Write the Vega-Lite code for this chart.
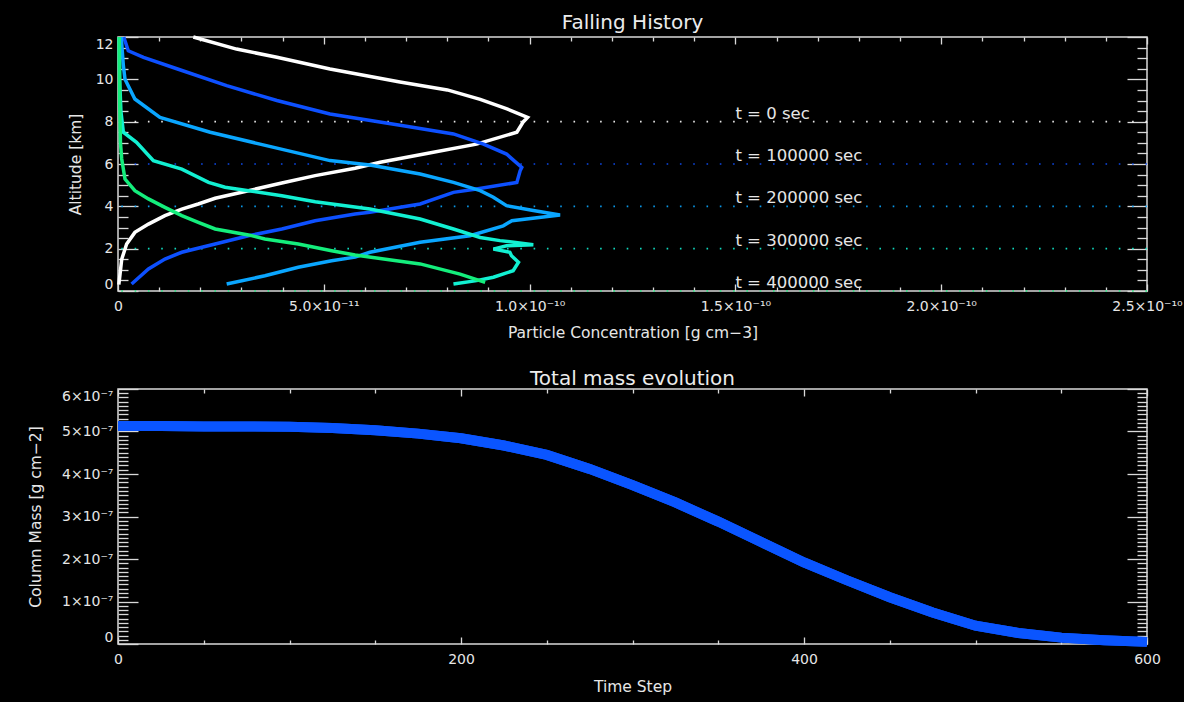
{
  "$schema": "https://vega.github.io/schema/vega-lite/v6.json",
  "background": "#000000",
  "padding": {"left": 27, "top": 12, "right": 10, "bottom": 6},
  "spacing": 26,
  "config": {
    "view": {"stroke": "#d9d9d9", "strokeWidth": 1.5},
    "title": {"color": "#ececec", "fontSize": 20, "fontWeight": "normal", "font": "DejaVu Sans", "offset": -3},
    "axis": {
      "domain": false, "grid": false,
      "labelColor": "#e6e6e6", "labelFont": "DejaVu Sans", "labelFontSize": 14,
      "titleColor": "#e6e6e6", "titleFont": "DejaVu Sans", "titleFontSize": 15.5, "titleFontWeight": "normal",
      "tickColor": "#d9d9d9", "tickWidth": 1.3, "labelOverlap": false
    }
  },
  "datasets": {
    "profiles": [
      {"t": 0, "i": 0, "conc": 0.002e-10, "alt": 0.3},
      {"t": 0, "i": 1, "conc": 0.005e-10, "alt": 0.8},
      {"t": 0, "i": 2, "conc": 0.009e-10, "alt": 1.5},
      {"t": 0, "i": 3, "conc": 0.021e-10, "alt": 2.22},
      {"t": 0, "i": 4, "conc": 0.041e-10, "alt": 2.77},
      {"t": 0, "i": 5, "conc": 0.074e-10, "alt": 3.16},
      {"t": 0, "i": 6, "conc": 0.114e-10, "alt": 3.56},
      {"t": 0, "i": 7, "conc": 0.155e-10, "alt": 3.87},
      {"t": 0, "i": 8, "conc": 0.195e-10, "alt": 4.11},
      {"t": 0, "i": 9, "conc": 0.236e-10, "alt": 4.38},
      {"t": 0, "i": 10, "conc": 0.317e-10, "alt": 4.74},
      {"t": 0, "i": 11, "conc": 0.398e-10, "alt": 5.1},
      {"t": 0, "i": 12, "conc": 0.479e-10, "alt": 5.45},
      {"t": 0, "i": 13, "conc": 0.576e-10, "alt": 5.8},
      {"t": 0, "i": 14, "conc": 0.637e-10, "alt": 6.08},
      {"t": 0, "i": 15, "conc": 0.75e-10, "alt": 6.5},
      {"t": 0, "i": 16, "conc": 0.871e-10, "alt": 6.94},
      {"t": 0, "i": 17, "conc": 0.969e-10, "alt": 7.5},
      {"t": 0, "i": 18, "conc": 0.985e-10, "alt": 8.0},
      {"t": 0, "i": 19, "conc": 0.995e-10, "alt": 8.2},
      {"t": 0, "i": 20, "conc": 0.945e-10, "alt": 8.6},
      {"t": 0, "i": 21, "conc": 0.88e-10, "alt": 9.05},
      {"t": 0, "i": 22, "conc": 0.8e-10, "alt": 9.5},
      {"t": 0, "i": 23, "conc": 0.685e-10, "alt": 9.87},
      {"t": 0, "i": 24, "conc": 0.515e-10, "alt": 10.49},
      {"t": 0, "i": 25, "conc": 0.386e-10, "alt": 11.04},
      {"t": 0, "i": 26, "conc": 0.288e-10, "alt": 11.43},
      {"t": 0, "i": 27, "conc": 0.183e-10, "alt": 12.0},

      {"t": 100000, "i": 0, "conc": 0.033e-10, "alt": 0.33},
      {"t": 100000, "i": 1, "conc": 0.074e-10, "alt": 1.04},
      {"t": 100000, "i": 2, "conc": 0.114e-10, "alt": 1.51},
      {"t": 100000, "i": 3, "conc": 0.155e-10, "alt": 1.83},
      {"t": 100000, "i": 4, "conc": 0.236e-10, "alt": 2.22},
      {"t": 100000, "i": 5, "conc": 0.317e-10, "alt": 2.61},
      {"t": 100000, "i": 6, "conc": 0.398e-10, "alt": 2.93},
      {"t": 100000, "i": 7, "conc": 0.479e-10, "alt": 3.32},
      {"t": 100000, "i": 8, "conc": 0.576e-10, "alt": 3.64},
      {"t": 100000, "i": 9, "conc": 0.612e-10, "alt": 3.72},
      {"t": 100000, "i": 10, "conc": 0.734e-10, "alt": 4.11},
      {"t": 100000, "i": 11, "conc": 0.815e-10, "alt": 4.66},
      {"t": 100000, "i": 12, "conc": 0.871e-10, "alt": 4.82},
      {"t": 100000, "i": 13, "conc": 0.969e-10, "alt": 5.13},
      {"t": 100000, "i": 14, "conc": 0.977e-10, "alt": 5.68},
      {"t": 100000, "i": 15, "conc": 0.981e-10, "alt": 5.84},
      {"t": 100000, "i": 16, "conc": 0.944e-10, "alt": 6.47},
      {"t": 100000, "i": 17, "conc": 0.888e-10, "alt": 6.94},
      {"t": 100000, "i": 18, "conc": 0.815e-10, "alt": 7.42},
      {"t": 100000, "i": 19, "conc": 0.693e-10, "alt": 7.81},
      {"t": 100000, "i": 20, "conc": 0.515e-10, "alt": 8.36},
      {"t": 100000, "i": 21, "conc": 0.386e-10, "alt": 9.0},
      {"t": 100000, "i": 22, "conc": 0.264e-10, "alt": 9.7},
      {"t": 100000, "i": 23, "conc": 0.143e-10, "alt": 10.5},
      {"t": 100000, "i": 24, "conc": 0.062e-10, "alt": 11.04},
      {"t": 100000, "i": 25, "conc": 0.025e-10, "alt": 11.35},
      {"t": 100000, "i": 26, "conc": 0.017e-10, "alt": 11.82},
      {"t": 100000, "i": 27, "conc": 0.014e-10, "alt": 12.0},

      {"t": 200000, "i": 0, "conc": 0.264e-10, "alt": 0.33},
      {"t": 200000, "i": 1, "conc": 0.357e-10, "alt": 0.72},
      {"t": 200000, "i": 2, "conc": 0.438e-10, "alt": 1.12},
      {"t": 200000, "i": 3, "conc": 0.519e-10, "alt": 1.43},
      {"t": 200000, "i": 4, "conc": 0.576e-10, "alt": 1.6},
      {"t": 200000, "i": 5, "conc": 0.612e-10, "alt": 1.83},
      {"t": 200000, "i": 6, "conc": 0.734e-10, "alt": 2.3},
      {"t": 200000, "i": 7, "conc": 0.855e-10, "alt": 2.61},
      {"t": 200000, "i": 8, "conc": 0.936e-10, "alt": 3.08},
      {"t": 200000, "i": 9, "conc": 0.957e-10, "alt": 3.32},
      {"t": 200000, "i": 10, "conc": 1.074e-10, "alt": 3.59},
      {"t": 200000, "i": 11, "conc": 1.009e-10, "alt": 3.8},
      {"t": 200000, "i": 12, "conc": 0.944e-10, "alt": 4.03},
      {"t": 200000, "i": 13, "conc": 0.912e-10, "alt": 4.43},
      {"t": 200000, "i": 14, "conc": 0.88e-10, "alt": 4.74},
      {"t": 200000, "i": 15, "conc": 0.815e-10, "alt": 5.13},
      {"t": 200000, "i": 16, "conc": 0.734e-10, "alt": 5.53},
      {"t": 200000, "i": 17, "conc": 0.612e-10, "alt": 5.95},
      {"t": 200000, "i": 18, "conc": 0.515e-10, "alt": 6.16},
      {"t": 200000, "i": 19, "conc": 0.345e-10, "alt": 6.94},
      {"t": 200000, "i": 20, "conc": 0.224e-10, "alt": 7.5},
      {"t": 200000, "i": 21, "conc": 0.102e-10, "alt": 8.2},
      {"t": 200000, "i": 22, "conc": 0.041e-10, "alt": 9.07},
      {"t": 200000, "i": 23, "conc": 0.017e-10, "alt": 10.0},
      {"t": 200000, "i": 24, "conc": 0.013e-10, "alt": 10.64},
      {"t": 200000, "i": 25, "conc": 0.01e-10, "alt": 11.43},
      {"t": 200000, "i": 26, "conc": 0.008e-10, "alt": 12.0},

      {"t": 300000, "i": 0, "conc": 0.815e-10, "alt": 0.33},
      {"t": 300000, "i": 1, "conc": 0.871e-10, "alt": 0.49},
      {"t": 300000, "i": 2, "conc": 0.912e-10, "alt": 0.65},
      {"t": 300000, "i": 3, "conc": 0.96e-10, "alt": 0.96},
      {"t": 300000, "i": 4, "conc": 0.973e-10, "alt": 1.36},
      {"t": 300000, "i": 5, "conc": 0.956e-10, "alt": 1.67},
      {"t": 300000, "i": 6, "conc": 0.952e-10, "alt": 1.83},
      {"t": 300000, "i": 7, "conc": 0.912e-10, "alt": 1.98},
      {"t": 300000, "i": 8, "conc": 0.944e-10, "alt": 2.14},
      {"t": 300000, "i": 9, "conc": 1.009e-10, "alt": 2.19},
      {"t": 300000, "i": 10, "conc": 0.928e-10, "alt": 2.38},
      {"t": 300000, "i": 11, "conc": 0.88e-10, "alt": 2.53},
      {"t": 300000, "i": 12, "conc": 0.815e-10, "alt": 2.93},
      {"t": 300000, "i": 13, "conc": 0.734e-10, "alt": 3.4},
      {"t": 300000, "i": 14, "conc": 0.612e-10, "alt": 3.87},
      {"t": 300000, "i": 15, "conc": 0.479e-10, "alt": 4.22},
      {"t": 300000, "i": 16, "conc": 0.398e-10, "alt": 4.5},
      {"t": 300000, "i": 17, "conc": 0.317e-10, "alt": 4.74},
      {"t": 300000, "i": 18, "conc": 0.26e-10, "alt": 4.9},
      {"t": 300000, "i": 19, "conc": 0.22e-10, "alt": 5.13},
      {"t": 300000, "i": 20, "conc": 0.155e-10, "alt": 5.76},
      {"t": 300000, "i": 21, "conc": 0.086e-10, "alt": 6.16},
      {"t": 300000, "i": 22, "conc": 0.045e-10, "alt": 7.02},
      {"t": 300000, "i": 23, "conc": 0.013e-10, "alt": 7.5},
      {"t": 300000, "i": 24, "conc": 0.007e-10, "alt": 8.5},
      {"t": 300000, "i": 25, "conc": 0.004e-10, "alt": 10.0},
      {"t": 300000, "i": 26, "conc": 0.003e-10, "alt": 12.0},

      {"t": 400000, "i": 0, "conc": 0.003e-10, "alt": 12.0},
      {"t": 400000, "i": 1, "conc": 0.004e-10, "alt": 9.0},
      {"t": 400000, "i": 2, "conc": 0.006e-10, "alt": 7.0},
      {"t": 400000, "i": 3, "conc": 0.009e-10, "alt": 6.24},
      {"t": 400000, "i": 4, "conc": 0.017e-10, "alt": 5.29},
      {"t": 400000, "i": 5, "conc": 0.041e-10, "alt": 4.74},
      {"t": 400000, "i": 6, "conc": 0.074e-10, "alt": 4.35},
      {"t": 400000, "i": 7, "conc": 0.114e-10, "alt": 3.95},
      {"t": 400000, "i": 8, "conc": 0.155e-10, "alt": 3.56},
      {"t": 400000, "i": 9, "conc": 0.195e-10, "alt": 3.24},
      {"t": 400000, "i": 10, "conc": 0.236e-10, "alt": 2.93},
      {"t": 400000, "i": 11, "conc": 0.317e-10, "alt": 2.65},
      {"t": 400000, "i": 12, "conc": 0.357e-10, "alt": 2.46},
      {"t": 400000, "i": 13, "conc": 0.438e-10, "alt": 2.22},
      {"t": 400000, "i": 14, "conc": 0.519e-10, "alt": 1.9},
      {"t": 400000, "i": 15, "conc": 0.576e-10, "alt": 1.7},
      {"t": 400000, "i": 16, "conc": 0.65e-10, "alt": 1.5},
      {"t": 400000, "i": 17, "conc": 0.734e-10, "alt": 1.28},
      {"t": 400000, "i": 18, "conc": 0.831e-10, "alt": 0.8},
      {"t": 400000, "i": 19, "conc": 0.892e-10, "alt": 0.41}
    ],
    "markers": [
      {"t": 0, "alt": 8, "label": "t = 0 sec"},
      {"t": 100000, "alt": 6, "label": "t = 100000 sec"},
      {"t": 200000, "alt": 4, "label": "t = 200000 sec"},
      {"t": 300000, "alt": 2, "label": "t = 300000 sec"},
      {"t": 400000, "alt": 0, "label": "t = 400000 sec"}
    ],
    "mass": [
      {"step": 0, "mass": 5.13e-7},
      {"step": 25, "mass": 5.13e-7},
      {"step": 50, "mass": 5.12e-7},
      {"step": 75, "mass": 5.12e-7},
      {"step": 100, "mass": 5.11e-7},
      {"step": 125, "mass": 5.08e-7},
      {"step": 150, "mass": 5.03e-7},
      {"step": 175, "mass": 4.95e-7},
      {"step": 200, "mass": 4.84e-7},
      {"step": 225, "mass": 4.67e-7},
      {"step": 250, "mass": 4.45e-7},
      {"step": 275, "mass": 4.12e-7},
      {"step": 300, "mass": 3.74e-7},
      {"step": 325, "mass": 3.33e-7},
      {"step": 350, "mass": 2.88e-7},
      {"step": 375, "mass": 2.40e-7},
      {"step": 400, "mass": 1.92e-7},
      {"step": 425, "mass": 1.50e-7},
      {"step": 450, "mass": 1.10e-7},
      {"step": 475, "mass": 0.74e-7},
      {"step": 500, "mass": 0.43e-7},
      {"step": 525, "mass": 0.26e-7},
      {"step": 550, "mass": 0.15e-7},
      {"step": 575, "mass": 0.09e-7},
      {"step": 600, "mass": 0.05e-7}
    ]
  },
  "vconcat": [
    {
      "width": 1029,
      "height": 254,
      "title": {"text": "Falling History"},
      "layer": [
        {
          "data": {"name": "markers"},
          "mark": {"type": "rule", "strokeDash": [1.6, 11.7], "strokeWidth": 1.6, "opacity": 0.9},
          "encoding": {
            "y": {"field": "alt", "type": "quantitative", "axis": null},
            "color": {"field": "t", "type": "nominal", "legend": null}
          }
        },
        {
          "data": {"name": "profiles"},
          "mark": {"type": "line", "strokeWidth": 3.5},
          "encoding": {
            "x": {
              "field": "conc", "type": "quantitative",
              "scale": {"domain": [0, 2.5e-10], "nice": false},
              "axis": {
                "orient": "bottom",
                "values": [0, 1e-11, 2e-11, 3e-11, 4e-11, 5e-11, 6e-11, 7e-11, 8e-11, 9e-11, 1e-10, 1.1e-10, 1.2e-10, 1.3e-10, 1.4e-10, 1.5e-10, 1.6e-10, 1.7e-10, 1.8e-10, 1.9e-10, 2e-10, 2.1e-10, 2.2e-10, 2.3e-10, 2.4e-10, 2.5e-10],
                "tickSize": {"condition": {"test": "abs(datum.value/5e-11 - round(datum.value/5e-11)) < 0.01", "value": -7}, "value": -4},
                "labelExpr": "datum.value < 1e-13 ? '0' : abs(datum.value/5e-11 - round(datum.value/5e-11)) > 0.01 ? '' : datum.value < 9e-11 ? format(datum.value*1e11, '.1f') + '×10⁻¹¹' : format(datum.value*1e10, '.1f') + '×10⁻¹⁰'",
                "labelFlush": false,
                "labelPadding": 15,
                "title": "Particle Concentration [g cm−3]",
                "titlePadding": 9
              }
            },
            "y": {
              "field": "alt", "type": "quantitative",
              "scale": {"domain": [0, 12], "nice": false},
              "axis": {
                "orient": "left",
                "values": [0, 0.5, 1, 1.5, 2, 2.5, 3, 3.5, 4, 4.5, 5, 5.5, 6, 6.5, 7, 7.5, 8, 8.5, 9, 9.5, 10, 10.5, 11, 11.5, 12],
                "tickSize": {"condition": {"test": "datum.value % 2 == 0", "value": -20}, "value": -10},
                "labelExpr": "datum.value % 2 == 0 ? format(datum.value, 'd') : ''",
                "labelFlush": true,
                "labelPadding": 25,
                "title": "Altitude [km]",
                "titlePadding": 12
              }
            },
            "color": {
              "field": "t", "type": "nominal",
              "scale": {"domain": [0, 100000, 200000, 300000, 400000], "range": ["#ffffff", "#0d50ff", "#0aa6ff", "#12f0d2", "#14ee7c"]},
              "legend": null
            },
            "order": {"field": "i", "type": "quantitative"}
          }
        },
        {
          "data": {"name": "markers"},
          "mark": {"type": "text", "align": "left", "baseline": "alphabetic", "dy": -3, "fontSize": 16.5, "font": "DejaVu Sans", "color": "#e6e6e6"},
          "encoding": {
            "x": {
              "datum": 1.5e-10, "type": "quantitative",
              "axis": {
                "orient": "top",
                "values": [0, 1e-11, 2e-11, 3e-11, 4e-11, 5e-11, 6e-11, 7e-11, 8e-11, 9e-11, 1e-10, 1.1e-10, 1.2e-10, 1.3e-10, 1.4e-10, 1.5e-10, 1.6e-10, 1.7e-10, 1.8e-10, 1.9e-10, 2e-10, 2.1e-10, 2.2e-10, 2.3e-10, 2.4e-10, 2.5e-10],
                "tickSize": {"condition": {"test": "abs(datum.value/5e-11 - round(datum.value/5e-11)) < 0.01", "value": -7}, "value": -4},
                "labels": false,
                "title": null
              }
            },
            "y": {
              "field": "alt", "type": "quantitative",
              "axis": {
                "orient": "right",
                "values": [0, 0.5, 1, 1.5, 2, 2.5, 3, 3.5, 4, 4.5, 5, 5.5, 6, 6.5, 7, 7.5, 8, 8.5, 9, 9.5, 10, 10.5, 11, 11.5, 12],
                "tickSize": {"condition": {"test": "datum.value % 2 == 0", "value": -20}, "value": -10},
                "labels": false,
                "title": null
              }
            },
            "text": {"field": "label", "type": "nominal"}
          }
        }
      ],
      "resolve": {"axis": {"x": "independent", "y": "independent"}}
    },
    {
      "width": 1029,
      "height": 255,
      "title": {"text": "Total mass evolution"},
      "data": {"name": "mass"},
      "layer": [
        {
          "mark": {"type": "line", "strokeWidth": 10, "color": "#0a55ff"},
          "encoding": {
            "x": {
              "field": "step", "type": "quantitative",
              "scale": {"domain": [0, 600], "nice": false},
              "axis": {
                "orient": "bottom",
                "values": [0, 50, 100, 150, 200, 250, 300, 350, 400, 450, 500, 550, 600],
                "tickSize": {"condition": {"test": "datum.value % 200 == 0", "value": -7}, "value": -4},
                "labelExpr": "datum.value % 200 == 0 ? format(datum.value, 'd') : ''",
                "labelFlush": false,
                "labelPadding": 15,
                "title": "Time Step",
                "titlePadding": 10
              }
            },
            "y": {
              "field": "mass", "type": "quantitative",
              "scale": {"domain": [0, 6e-7], "nice": false},
              "axis": {
                "orient": "left",
                "values": [0, 1e-8, 2e-8, 3e-8, 4e-8, 5e-8, 6e-8, 7e-8, 8e-8, 9e-8, 1e-7, 1.1e-7, 1.2e-7, 1.3e-7, 1.4e-7, 1.5e-7, 1.6e-7, 1.7e-7, 1.8e-7, 1.9e-7, 2e-7, 2.1e-7, 2.2e-7, 2.3e-7, 2.4e-7, 2.5e-7, 2.6e-7, 2.7e-7, 2.8e-7, 2.9e-7, 3e-7, 3.1e-7, 3.2e-7, 3.3e-7, 3.4e-7, 3.5e-7, 3.6e-7, 3.7e-7, 3.8e-7, 3.9e-7, 4e-7, 4.1e-7, 4.2e-7, 4.3e-7, 4.4e-7, 4.5e-7, 4.6e-7, 4.7e-7, 4.8e-7, 4.9e-7, 5e-7, 5.1e-7, 5.2e-7, 5.3e-7, 5.4e-7, 5.5e-7, 5.6e-7, 5.7e-7, 5.8e-7, 5.9e-7, 6e-7],
                "tickSize": {"condition": {"test": "abs(datum.value*1e7 - round(datum.value*1e7)) < 0.01", "value": -20}, "value": -10},
                "labelExpr": "datum.value < 1e-12 ? '0' : abs(datum.value*1e7 - round(datum.value*1e7)) < 0.01 ? format(round(datum.value*1e7), 'd') + '×10⁻⁷' : ''",
                "labelFlush": true,
                "labelPadding": 25,
                "title": "Column Mass [g cm−2]",
                "titlePadding": 18
              }
            }
          }
        },
        {
          "mark": {"type": "line", "strokeWidth": 10, "color": "#0a55ff"},
          "encoding": {
            "x": {
              "field": "step", "type": "quantitative",
              "axis": {
                "orient": "top",
                "values": [0, 50, 100, 150, 200, 250, 300, 350, 400, 450, 500, 550, 600],
                "tickSize": {"condition": {"test": "datum.value % 200 == 0", "value": -7}, "value": -4},
                "labels": false,
                "title": null
              }
            },
            "y": {
              "field": "mass", "type": "quantitative",
              "axis": {
                "orient": "right",
                "values": [0, 1e-8, 2e-8, 3e-8, 4e-8, 5e-8, 6e-8, 7e-8, 8e-8, 9e-8, 1e-7, 1.1e-7, 1.2e-7, 1.3e-7, 1.4e-7, 1.5e-7, 1.6e-7, 1.7e-7, 1.8e-7, 1.9e-7, 2e-7, 2.1e-7, 2.2e-7, 2.3e-7, 2.4e-7, 2.5e-7, 2.6e-7, 2.7e-7, 2.8e-7, 2.9e-7, 3e-7, 3.1e-7, 3.2e-7, 3.3e-7, 3.4e-7, 3.5e-7, 3.6e-7, 3.7e-7, 3.8e-7, 3.9e-7, 4e-7, 4.1e-7, 4.2e-7, 4.3e-7, 4.4e-7, 4.5e-7, 4.6e-7, 4.7e-7, 4.8e-7, 4.9e-7, 5e-7, 5.1e-7, 5.2e-7, 5.3e-7, 5.4e-7, 5.5e-7, 5.6e-7, 5.7e-7, 5.8e-7, 5.9e-7, 6e-7],
                "tickSize": {"condition": {"test": "abs(datum.value*1e7 - round(datum.value*1e7)) < 0.01", "value": -20}, "value": -10},
                "labels": false,
                "title": null
              }
            }
          }
        }
      ],
      "resolve": {"axis": {"x": "independent", "y": "independent"}}
    }
  ]
}
